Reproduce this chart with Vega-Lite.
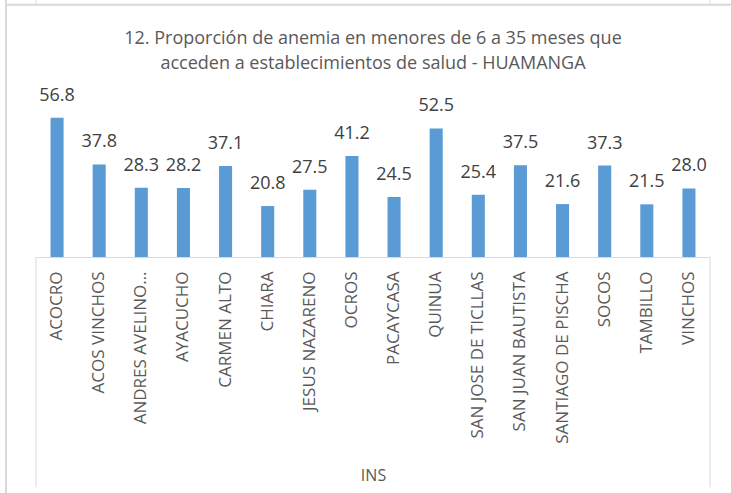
{
  "$schema": "https://vega.github.io/schema/vega-lite/v6.json",
  "width": 674,
  "height": 147,
  "autosize": {"type": "none"},
  "padding": {"left": 36, "top": 110, "right": 21, "bottom": 236},
  "background": "white",
  "config": {"view": {"stroke": null}, "font": "Open Sans"},
  "title": {
    "text": ["12. Proporción de anemia en menores de 6 a 35 meses que", "acceden a establecimientos de salud - HUAMANGA"],
    "font": "Open Sans",
    "fontSize": 18,
    "fontWeight": "normal",
    "color": "#595959",
    "lineHeight": 25,
    "anchor": "middle",
    "frame": "group",
    "offset": -74
  },
  "datasets": {
    "bars": [
      {"cat": "ACOCRO", "value": 56.8},
      {"cat": "ACOS VINCHOS", "value": 37.8},
      {"cat": "ANDRES AVELINO…", "value": 28.3},
      {"cat": "AYACUCHO", "value": 28.2},
      {"cat": "CARMEN ALTO", "value": 37.1},
      {"cat": "CHIARA", "value": 20.8},
      {"cat": "JESUS NAZARENO", "value": 27.5},
      {"cat": "OCROS", "value": 41.2},
      {"cat": "PACAYCASA", "value": 24.5},
      {"cat": "QUINUA", "value": 52.5},
      {"cat": "SAN JOSE DE TICLLAS", "value": 25.4},
      {"cat": "SAN JUAN BAUTISTA", "value": 37.5},
      {"cat": "SANTIAGO DE PISCHA", "value": 21.6},
      {"cat": "SOCOS", "value": 37.3},
      {"cat": "TAMBILLO", "value": 21.5},
      {"cat": "VINCHOS", "value": 28.0}
    ],
    "lines": [
      {"kind": "border", "ex": 0, "ex2": 0, "ya": 0, "yb": -94},
      {"kind": "border", "ex": 1, "ex2": 1, "ya": 0, "yb": -94},
      {"kind": "border", "ex": 0, "ex2": 0, "ya": 103, "yb": 105},
      {"kind": "border", "ex": 1, "ex2": 1, "ya": 103, "yb": 105},
      {"kind": "frame", "ex": -0.0445, "ex2": -0.0445, "ya": 105, "yb": -97},
      {"kind": "frame", "ex": -0.0445, "ex2": 1.04, "ya": 103, "yb": 103}
    ]
  },
  "resolve": {"scale": {"x": "independent"}, "axis": {"x": "independent"}},
  "layer": [
    {
      "data": {"name": "bars"},
      "mark": {"type": "bar", "color": "#5B9BD5"},
      "encoding": {
        "x": {
          "field": "cat",
          "type": "nominal",
          "sort": null,
          "scale": {"paddingInner": 0.69, "paddingOuter": 0.345},
          "axis": {
            "labelAngle": -90,
            "labelAlign": "right",
            "labelBaseline": "middle",
            "labelPadding": 14,
            "labelFont": "Open Sans",
            "labelFontSize": 17,
            "labelColor": "#595959",
            "labelLimit": 400,
            "ticks": false,
            "domainColor": "#D9D9D9",
            "domainWidth": 1,
            "title": "INS",
            "titleFont": "Open Sans",
            "titleFontSize": 16,
            "titleFontWeight": "normal",
            "titleColor": "#595959",
            "titlePadding": 24
          }
        },
        "y": {"field": "value", "type": "quantitative", "scale": {"domain": [0, 60]}, "axis": null}
      }
    },
    {
      "data": {"name": "bars"},
      "mark": {"type": "text", "baseline": "middle", "dy": -22, "fontSize": 18, "font": "Open Sans", "color": "#404040"},
      "encoding": {
        "x": {"field": "cat", "type": "nominal", "sort": null, "scale": {"paddingInner": 0.69, "paddingOuter": 0.345}, "axis": null},
        "y": {"field": "value", "type": "quantitative"},
        "text": {"field": "value", "type": "quantitative", "format": ".1f"}
      }
    },
    {
      "data": {"name": "lines"},
      "transform": [{"filter": "datum.kind === 'border'"}],
      "mark": {"type": "rule", "color": "#D9D9D9", "strokeWidth": 1},
      "encoding": {
        "x": {"field": "ex", "type": "quantitative", "scale": {"domain": [0, 1], "nice": false, "zero": false}, "axis": null},
        "x2": {"field": "ex2"},
        "y": {"field": "ya", "type": "quantitative"},
        "y2": {"field": "yb"}
      }
    },
    {
      "data": {"name": "lines"},
      "transform": [{"filter": "datum.kind === 'frame'"}],
      "mark": {"type": "rule", "color": "#D9D9D9", "strokeWidth": 2},
      "encoding": {
        "x": {"field": "ex", "type": "quantitative", "scale": {"domain": [0, 1], "nice": false, "zero": false}, "axis": null},
        "x2": {"field": "ex2"},
        "y": {"field": "ya", "type": "quantitative"},
        "y2": {"field": "yb"}
      }
    }
  ]
}
